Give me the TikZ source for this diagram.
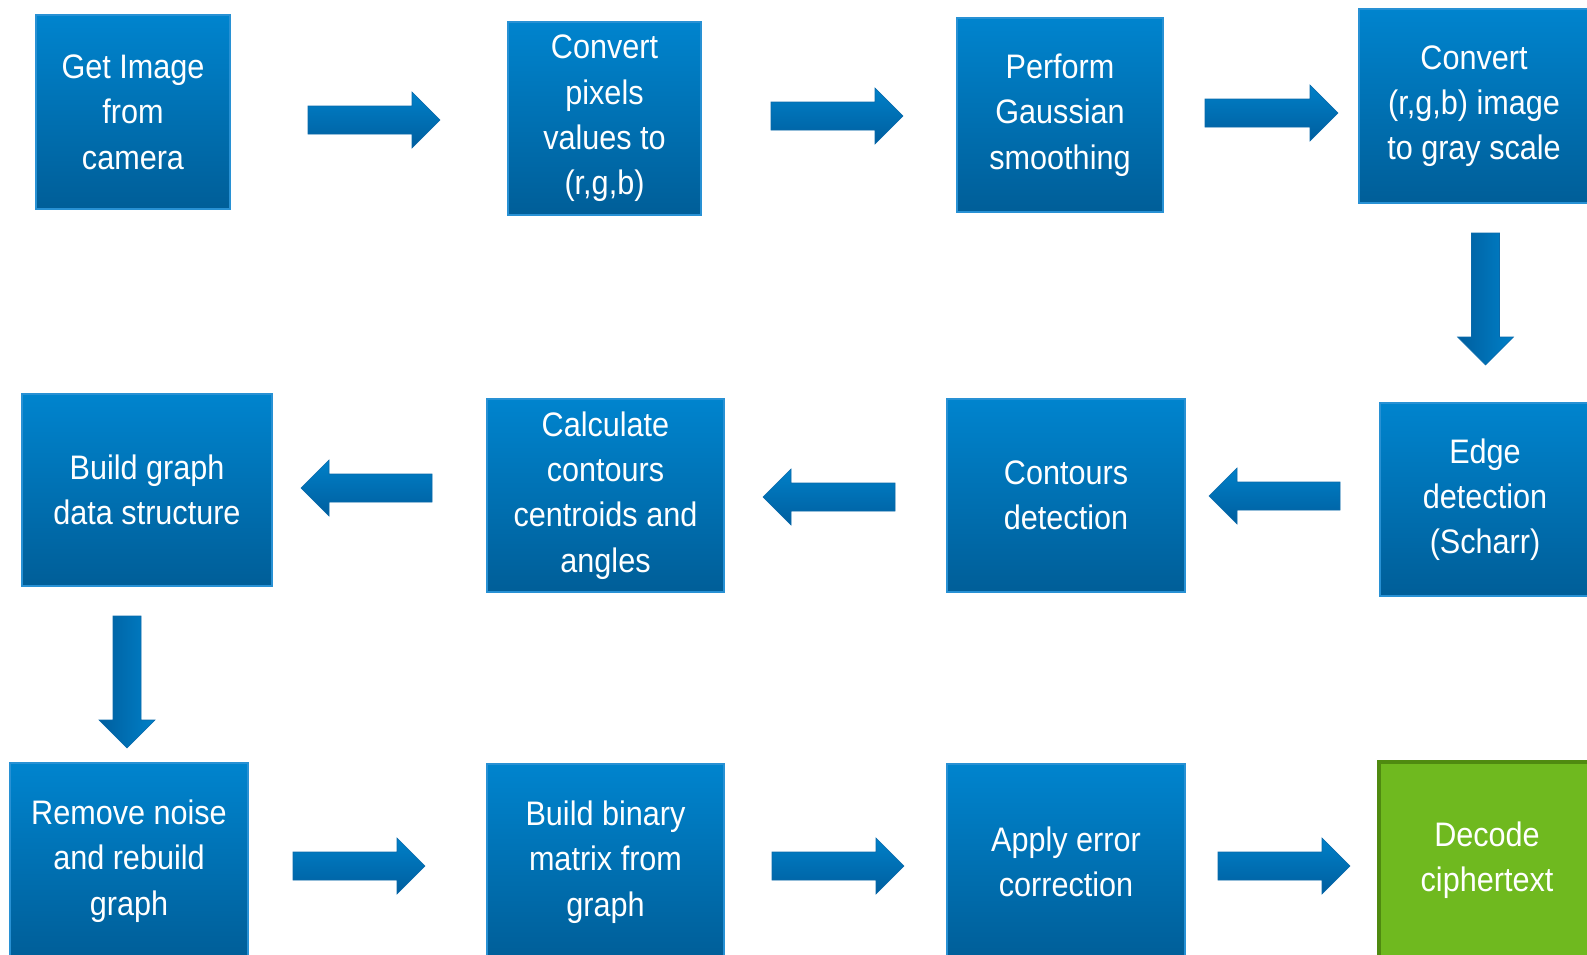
\documentclass[tikz,border=0pt]{standalone}
\usepackage{fontspec}
\setmainfont{Liberation Sans}[FakeStretch=0.9]
\usetikzlibrary{calc}
\definecolor{boxtop}{RGB}{0,132,206}
\definecolor{boxbot}{RGB}{0,94,152}
\definecolor{boxedge}{RGB}{40,145,212}
\definecolor{arrtop}{RGB}{0,128,200}
\definecolor{arrbot}{RGB}{0,94,158}
\definecolor{arredge}{RGB}{10,105,170}
\definecolor{greenfill}{RGB}{111,185,31}
\definecolor{greenedge}{RGB}{79,138,16}
\tikzset{
  boxtext/.style={text=white, align=center, inner sep=0pt, outer sep=0pt,
    font=\fontsize{34}{45.3}\selectfont,
    execute at end node={\par\vspace*{-6pt}}},
  stepbox/.style={rectangle, draw=boxedge, line width=1.4pt, top color=boxtop, bottom color=boxbot, boxtext},
  finalbox/.style={rectangle, draw=greenedge, line width=3.5pt, fill=greenfill, boxtext},
  harrow/.style={top color=arrtop, bottom color=arrbot, draw=arredge, line width=0.6pt},
  varrow/.style={left color=arrbot, right color=arrtop, draw=arredge, line width=0.6pt},
}
% right-pointing block arrow: tail #1, tip #2
\newcommand\rblock[2]{\path[harrow] let \p1=(#1), \p2=(#2) in
  (\x1,\y1+14pt) -- (\x2-28pt,\y1+14pt) -- (\x2-28pt,\y1+28pt) -- (\x2,\y1)
  -- (\x2-28pt,\y1-28pt) -- (\x2-28pt,\y1-14pt) -- (\x1,\y1-14pt) -- cycle;}
% left-pointing block arrow: tail #1, tip #2
\newcommand\lblock[2]{\path[harrow] let \p1=(#1), \p2=(#2) in
  (\x1,\y1+14pt) -- (\x2+28pt,\y1+14pt) -- (\x2+28pt,\y1+28pt) -- (\x2,\y1)
  -- (\x2+28pt,\y1-28pt) -- (\x2+28pt,\y1-14pt) -- (\x1,\y1-14pt) -- cycle;}
% down-pointing block arrow: tail #1, tip #2
\newcommand\dblock[2]{\path[varrow] let \p1=(#1), \p2=(#2) in
  (\x1-14pt,\y1) -- (\x1-14pt,\y2+28pt) -- (\x1-28pt,\y2+28pt) -- (\x1,\y2)
  -- (\x1+28pt,\y2+28pt) -- (\x1+14pt,\y2+28pt) -- (\x1+14pt,\y1) -- cycle;}
\begin{document}
\begin{tikzpicture}[x=1pt,y=-1pt]
\useasboundingbox (0,0) rectangle (1587,954);
\clip (0,0) rectangle (1587,954);
\fill[white] (0,0) rectangle (1587,954);
% row 1
\node[stepbox, minimum width=194pt, minimum height=194pt] (b1) at (133,112) {Get Image\\from\\camera};
\node[stepbox, minimum width=193pt, minimum height=193pt] (b2) at (604.5,118.5) {Convert\\pixels\\values to\\(r,g,b)};
\node[stepbox, minimum width=206pt, minimum height=194pt] (b3) at (1060,115) {Perform\\Gaussian\\smoothing};
\node[stepbox, minimum width=230pt, minimum height=194pt] (b4) at (1474,106) {Convert\\(r,g,b) image\\to gray scale};
% row 2
\node[stepbox, minimum width=210pt, minimum height=193pt] (b5) at (1485,499.5) {Edge\\detection\\(Scharr)};
\node[stepbox, minimum width=238pt, minimum height=193pt] (b6) at (1066,495.5) {Contours\\detection};
\node[stepbox, minimum width=237pt, minimum height=193pt] (b7) at (605.5,495.5) {Calculate\\contours\\centroids and\\angles};
\node[stepbox, minimum width=250pt, minimum height=192pt] (b8) at (147,490) {Build graph\\data structure};
% row 3
\node[stepbox, minimum width=238pt, minimum height=196pt] (b9) at (129,861) {Remove noise\\and rebuild\\graph};
\node[stepbox, minimum width=237pt, minimum height=196pt] (b10) at (605.5,862) {Build binary\\matrix from\\graph};
\node[stepbox, minimum width=238pt, minimum height=196pt] (b11) at (1066,862) {Apply error\\correction};
\node[finalbox, minimum width=216pt, minimum height=196pt] (b12) at (1487,860) {Decode\\ciphertext};
% arrow end points
\coordinate (a1s) at (308,120);  \coordinate (a1e) at (440,120);
\coordinate (a2s) at (771,116);  \coordinate (a2e) at (903,116);
\coordinate (a3s) at (1205,113); \coordinate (a3e) at (1338,113);
\coordinate (a4s) at (1485.5,233); \coordinate (a4e) at (1485.5,365);
\coordinate (a5s) at (1340,496); \coordinate (a5e) at (1209,496);
\coordinate (a6s) at (895,497);  \coordinate (a6e) at (763,497);
\coordinate (a7s) at (432,488);  \coordinate (a7e) at (301,488);
\coordinate (a8s) at (127,616);  \coordinate (a8e) at (127,748);
\coordinate (a9s) at (293,866);  \coordinate (a9e) at (425,866);
\coordinate (a10s) at (772,866); \coordinate (a10e) at (904,866);
\coordinate (a11s) at (1218,866); \coordinate (a11e) at (1350,866);
\rblock{a1s}{a1e}
\rblock{a2s}{a2e}
\rblock{a3s}{a3e}
\dblock{a4s}{a4e}
\lblock{a5s}{a5e}
\lblock{a6s}{a6e}
\lblock{a7s}{a7e}
\dblock{a8s}{a8e}
\rblock{a9s}{a9e}
\rblock{a10s}{a10e}
\rblock{a11s}{a11e}
\end{tikzpicture}
\end{document}
